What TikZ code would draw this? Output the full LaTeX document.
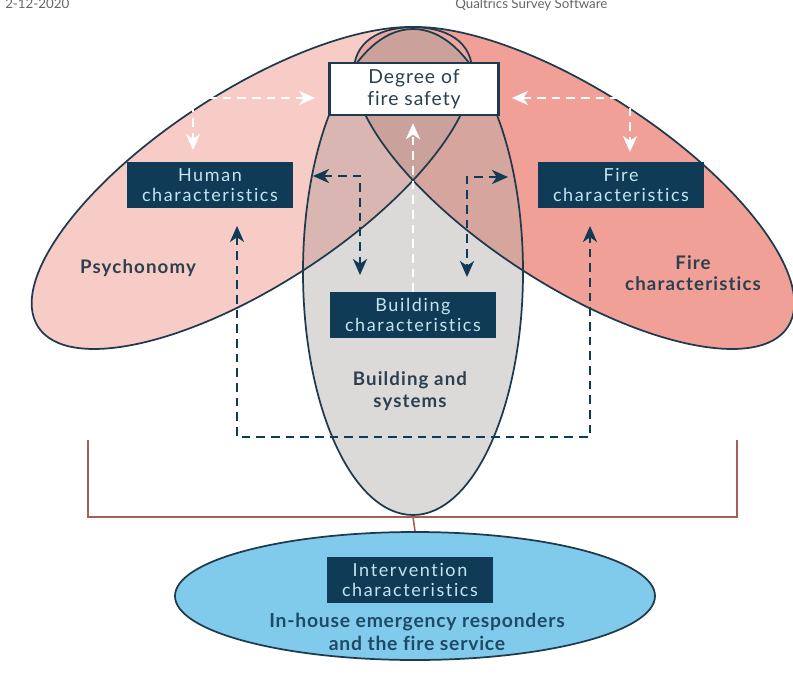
\documentclass[tikz,border=0pt]{standalone}
\usepackage{fontspec}
\setmainfont{Lato}[RawFeature={-liga}]
\usetikzlibrary{arrows.meta,calc,shapes.geometric}

\definecolor{navy}{HTML}{0F3B57}
\definecolor{outline}{HTML}{1E3A4C}
\definecolor{labeltext}{HTML}{2B3F4E}
\definecolor{boxtext}{HTML}{C4E4EE}
\definecolor{psyfill}{HTML}{F7CBC6}
\definecolor{firefill}{HTML}{F0A097}
\definecolor{bldfill}{HTML}{DCD9D9}
\definecolor{psybld}{HTML}{D9B6B1}
\definecolor{firebld}{HTML}{D6A59E}
\definecolor{psyfire}{HTML}{E9A8A0}
\definecolor{allthree}{HTML}{CBA19B}
\definecolor{intfill}{HTML}{80CBEB}
\definecolor{inttext}{HTML}{1E4A66}
\definecolor{bracket}{HTML}{A65F57}
\definecolor{headgray}{HTML}{666666}

\def\psyell{(252,188) ellipse [x radius=255, y radius=97, rotate=33]}
\def\fireell{(574,188) ellipse [x radius=255, y radius=97, rotate=-33]}
\def\bldell{(413,272) ellipse [x radius=110, y radius=243]}

\tikzset{
  darkbox/.style={fill=navy, text=boxtext, align=center, inner sep=0pt,
    minimum width=124pt, minimum height=34pt,
    font=\fontsize{13.5}{15}\selectfont\addfontfeatures{LetterSpace=9}},
  whitebox/.style={fill=white, draw=outline, line width=1.8pt, text=labeltext,
    align=center, inner sep=0pt, minimum width=127pt, minimum height=39pt,
    font=\fontsize{14.5}{16}\selectfont\addfontfeatures{LetterSpace=5}},
  arealabel/.style={text=labeltext, align=center,
    font=\bfseries\fontsize{14}{16}\selectfont\addfontfeatures{LetterSpace=6}},
  ring/.style={draw=outline, line width=1.3pt},
  tipd/.tip={Stealth[length=12pt,width=10.5pt,inset=3.5pt]},
  darr/.style={draw=navy, line width=1.7pt, dash pattern=on 6.5pt off 4.5pt,
    tipd-tipd},
  darrone/.style={draw=navy, line width=1.7pt, dash pattern=on 6.5pt off 4.5pt,
    -tipd},
  warr/.style={darr, draw=white},
  warrone/.style={darrone, draw=white},
  headtext/.style={text=headgray, font=\fontsize{10}{12}\selectfont, inner sep=0pt},
  interv/.style={ellipse, fill=intfill, draw=outline, line width=1.3pt,
    minimum width=360pt, minimum height=96pt, inner sep=0pt},
  brline/.style={draw=bracket, line width=1.2pt}
}

\begin{document}
\begin{tikzpicture}[x=0.75pt, y=-0.75pt]
\useasboundingbox (0,0) rectangle (793,675);
\clip (0,0) rectangle (793,675);
\fill[white] (0,0) rectangle (793,675);

% header line of the printed page
\node[headtext, anchor=base west] (date) at (5,8) {2-12-2020};
\node[headtext, anchor=base west] (app) at (455,8) {Qualtrics Survey Software};

% the three overlapping domains
\fill[psyfill] \psyell;
\fill[firefill] \fireell;
\begin{scope}
  \clip \psyell;
  \fill[psyfire] \fireell;
\end{scope}
\fill[bldfill] \bldell;
\begin{scope}
  \clip \bldell;
  \fill[psybld] \psyell;
  \fill[firebld] \fireell;
  \clip \psyell;
  \fill[allthree] \fireell;
\end{scope}
\draw[ring] \psyell;
\draw[ring] \fireell;
\draw[ring] \bldell;

% domain labels
\node[arealabel] (psy) at (138,268) {Psychonomy};
\node[arealabel] (firelab) at (693,273) {Fire\\characteristics};
\node[arealabel] (bldlab) at (410,391) {Building and\\systems};

% characteristic boxes
\node[whitebox] (deg) at (414,89) {Degree of\\fire safety};
\node[darkbox] (hum) at (210,185) {Human\\characteristics};
\node[darkbox] (fire) at (621,185) {Fire\\characteristics};
\node[darkbox] (bld) at (413,315) {Building\\characteristics};

% bracket joining the domains to the intervention
\node[interv] (intell) at (415,596) {};
\node[darkbox] (int) at (410,580) {Intervention\\characteristics};
\node[arealabel, text=inttext, font=\bfseries\fontsize{14.5}{17}\selectfont\addfontfeatures{LetterSpace=4}] (intlab) at (417,632) {In-house emergency responders\\and the fire service};
\coordinate (brL) at (88,440);
\coordinate (brR) at (737,440);
\coordinate (brM) at (413,517);
\draw[brline] (brL) |- (brM) -| (brR);
\draw[brline] (brM) -- (intell.north);

% dark dashed connectors
\coordinate (loopB) at (413,437);
\draw[darr] ($(hum.east)+(20,-9)$) -| ($(bld.north)+(-53,-17)$);
\draw[darr] ($(fire.west)+(-30,-8)$) -| ($(bld.north)+(54,-15)$);
\draw[darr] ($(hum.south)+(27,18)$) |- (loopB) -| ($(fire.south)+(-31,18)$);

% white dashed connectors
\draw[warrone] (bld.north) -- ($(deg.south)+(-1,7)$);
\draw[warr] ($(deg.west)+(-13,9)$) -| ($(hum.north)+(-17,-12)$);
\draw[warr] ($(deg.east)+(12,9)$) -| ($(fire.north)+(9,-10)$);
\end{tikzpicture}
\end{document}
